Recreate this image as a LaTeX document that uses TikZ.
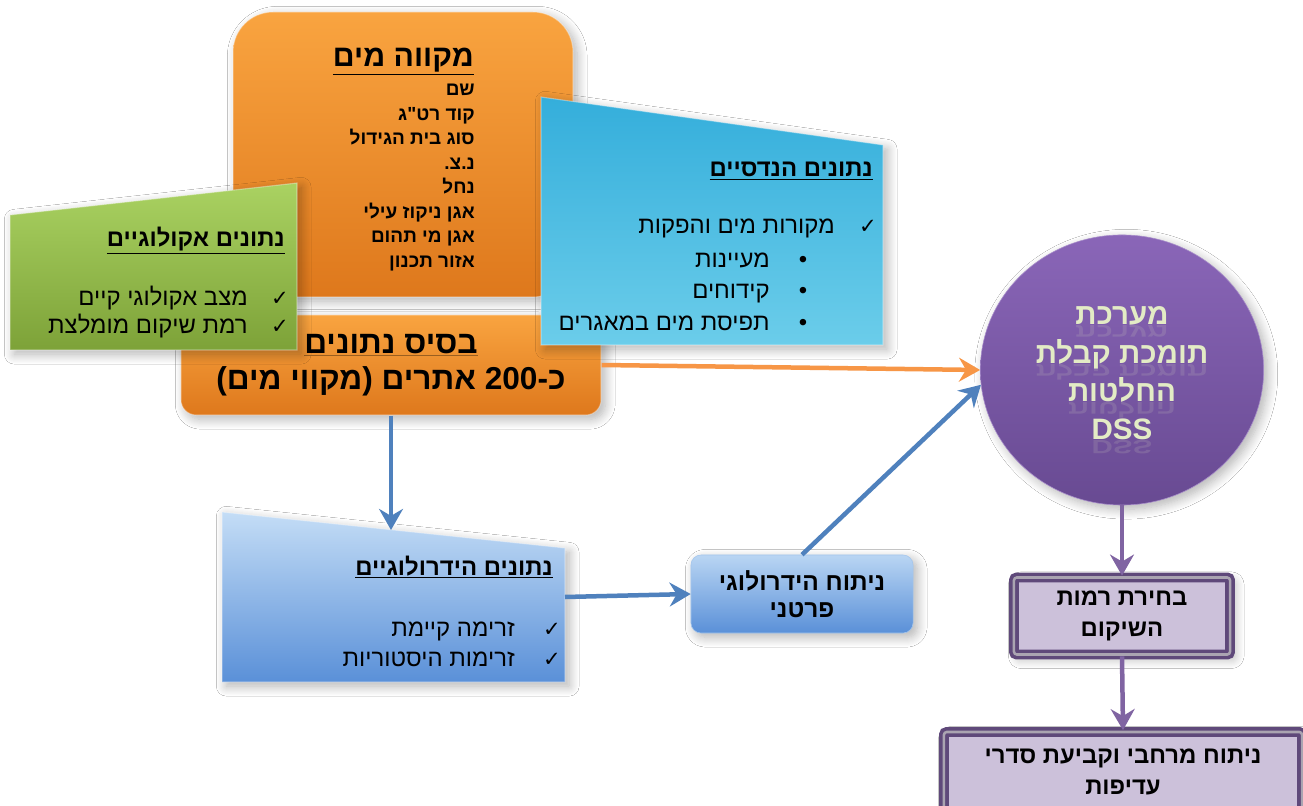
\documentclass[tikz,border=0pt]{standalone}
\usepackage{fontspec}
\usetikzlibrary{arrows.meta, shapes.geometric, shadows.blur}
\newfontfamily\hebfont[Script=Hebrew]{Liberation Sans}
\newfontfamily\symfont{DejaVu Sans}
\TeXXeTstate=1
\newcommand{\heb}[1]{\beginR #1\endR}
\newcommand{\chk}{{\symfont\fontsize{15}{15}\selectfont ✓}}

\definecolor{orgtop}{HTML}{F9A440}
\definecolor{orgbot}{HTML}{DE781C}
\definecolor{grntop}{HTML}{AAD262}
\definecolor{grnbot}{HTML}{7DA238}
\definecolor{cyntop}{HTML}{34AEDB}
\definecolor{cynbot}{HTML}{6BCDEA}
\definecolor{blutop}{HTML}{C4DDF6}
\definecolor{blubot}{HTML}{5A90D8}
\definecolor{dsstop}{HTML}{8A66B8}
\definecolor{dssbot}{HTML}{684A92}
\definecolor{dsstext}{HTML}{E3EBC5}
\definecolor{lilac}{HTML}{CCC1DA}
\definecolor{plum}{HTML}{5F497A}
\definecolor{lnblue}{HTML}{4F81BD}
\definecolor{lnorange}{HTML}{F79646}
\definecolor{lnpurple}{HTML}{8064A2}

\tikzset{
  soft/.style={blur shadow={shadow xshift=3pt, shadow yshift=-3pt,
      shadow blur radius=7pt, shadow blur steps=10, shadow opacity=30}},
  bevel/.style={draw=white, draw opacity=0.35, line width=0.8pt},
}

\begin{document}
\begin{tikzpicture}[x=0.025cm, y=-0.025cm, font=\hebfont,
  conn/.style={line width=3.2pt, -{Stealth[length=15pt, width=17pt, inset=5pt]}},
  head/.style={anchor=base east, inner sep=0pt, font=\hebfont\bfseries\fontsize{17}{20}\selectfont},
  item/.style={anchor=base east, inner sep=0pt, font=\hebfont\fontsize{17}{20}\selectfont},
  bolditem/.style={anchor=base east, inner sep=0pt, font=\hebfont\bfseries\fontsize{13.5}{16}\selectfont},
  tick/.style={anchor=base, inner sep=0pt},
  dsstxt/.style={anchor=base, inner sep=0pt, text=dsstext, font=\hebfont\bfseries\fontsize{21}{21}\selectfont},
  purplebox/.style={rectangle, rounded corners=2pt, fill=lilac, draw=plum,
      line width=2.6pt, double=lilac!55!gray, double distance=1.8pt, soft,
      align=center, font=\hebfont\bfseries\fontsize{17}{21.5}\selectfont}]

\useasboundingbox (0,0) rectangle (1303,806);
\fill[white] (0,0) rectangle (1303,806);

% water body card
\path[soft, top color=orgtop, bottom color=orgbot, bevel, rounded corners=1cm]
  (233,12) rectangle (573,297);

% database
\node[soft, bevel, top color=orgtop, bottom color=orgbot, rounded corners=0.38cm,
      minimum width=10.5cm, minimum height=2.5cm, align=center,
      font=\hebfont\bfseries\fontsize{22.5}{25.5}\selectfont] (base) at (391,365)
  {\underline{\heb{בסיס נתונים}}\\\heb{כ-\beginL 200\endL{} אתרים (מקווי מים)}};

% ecological data
\path[soft, bevel, top color=grntop, bottom color=grnbot]
  (10,215) -- (297,183) -- (297,350) -- (10,350) -- cycle;

% engineering data
\path[soft, bevel, top color=cyntop, bottom color=cynbot]
  (541,97) -- (883,145) -- (883,345) -- (541,345) -- cycle;

% hydrological data
\path[soft, bevel, top color=blutop, bottom color=blubot]
  (222,512) -- (565,548) -- (565,682) -- (222,682) -- cycle;
\coordinate (hydtop) at (391,530);
\coordinate (hydout) at (565,597);

% partial analysis
\node[soft, top color=blutop!90!blubot, bottom color=blubot, draw=blutop!70!blubot,
      rounded corners=0.25cm, minimum width=5.55cm, minimum height=1.95cm,
      align=center, font=\hebfont\bfseries\fontsize{17.4}{19.5}\selectfont] (pf) at (802,594)
  {\heb{ניתוח הידרולוגי}\\\heb{פרטני}};

% decision support system
\node[soft, ellipse, minimum width=7.08cm, minimum height=6.75cm, inner sep=0pt,
      top color=dsstop, bottom color=dssbot, draw=dsstop!75!white] (dss) at (1122,370) {};
\foreach \txt/\yy [count=\i] in {{\heb{מערכת}}/325, {\heb{תומכת קבלת}}/364,
    {\heb{החלטות}}/402, {DSS}/440} {
  \node[dsstxt, opacity=0.14, yscale=-0.65, transform shape] at (1122,\yy+1) {\txt};
  \node[dsstxt] (dss\i) at (1122,\yy) {\txt};
}

\node[purplebox, minimum width=5.4cm, minimum height=1.925cm] (pb1) at (1122,616)
  {\heb{בחירת רמות}\\\heb{השיקום}};
\node[purplebox, minimum width=8.95cm, minimum height=2cm] (pb2) at (1123,772)
  {\heb{ניתוח מרחבי וקביעת סדרי}\\\heb{עדיפות}};

% ---- texts ----
\node[head, font=\hebfont\bfseries\fontsize{21.5}{24}\selectfont] (wbtitle) at (474,67)
  {\underline{\heb{מקווה מים}}};
\foreach \txt [count=\i] in {{שם}, {קוד רט"ג}, {סוג בית הגידול}, {נ.צ.}, {נחל},
    {אגן ניקוז עילי}, {אגן מי תהום}, {אזור תכנון}}
  \node[bolditem] (wb\i) at (475,{96+24.5*(\i-1)}) {\heb{\txt}};

\node[head] (ecotitle) at (285,247) {\underline{\heb{נתונים אקולוגיים}}};
\node[item] (eco1) at (248,306) {\heb{מצב אקולוגי קיים}};
\node[item] (eco2) at (248,334) {\heb{רמת שיקום מומלצת}};
\node[tick] at (280,306) {\chk};
\node[tick] at (280,334) {\chk};

\node[head] (engtitle) at (873,177) {\underline{\heb{נתונים הנדסיים}}};
\node[item] (eng1) at (835,234) {\heb{מקורות מים והפקות}};
\node[tick] at (868,234) {\chk};
\foreach \txt/\yy in {{מעיינות}/268, {קידוחים}/299, {תפיסת מים במאגרים}/331} {
  \node[item] at (770,\yy) {\heb{\txt}};
  \node[item, anchor=base] at (803,\yy) {•};
}

\node[head] (hydtitle) at (553,575) {\underline{\heb{נתונים הידרולוגיים}}};
\node[item] (hyd1) at (515,636) {\heb{זרימה קיימת}};
\node[item] (hyd2) at (515,666) {\heb{זרימות היסטוריות}};
\node[tick] at (552,636) {\chk};
\node[tick] at (552,666) {\chk};

% ---- connectors ----
\draw[conn, lnorange] (base.east) -- (dss.west);
\draw[conn, lnblue] (base.south) -- (hydtop);
\draw[conn, lnblue] (hydout) -- (pf.west);
\draw[conn, lnblue] (pf.north) -- (dss.186);
\draw[conn, lnpurple] (dss.south) -- (pb1.north);
\draw[conn, lnpurple] (pb1.south) -- (pb2.north);

\end{tikzpicture}
\end{document}
